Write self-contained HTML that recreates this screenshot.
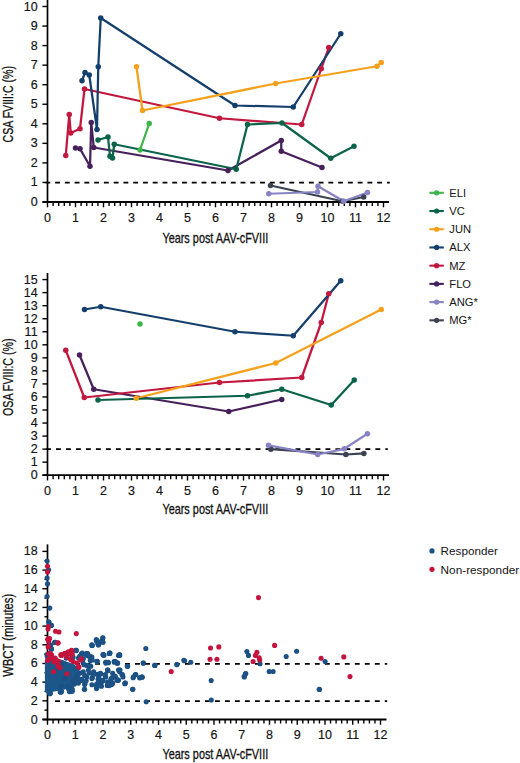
<!DOCTYPE html>
<html><head><meta charset="utf-8"><style>
html,body{margin:0;padding:0;background:#fff;}
body{width:520px;height:763px;overflow:hidden;}
svg{display:block;}
text{font-family:"Liberation Sans", sans-serif;fill:#141414;}
.tk{font-size:12.5px;stroke:#141414;stroke-width:0.18px;}
.tt{font-size:14.3px;fill:#111;stroke:#111;stroke-width:0.3px;}
.lg{font-size:11.2px;}
.lg2{font-size:11.7px;}
</style></head><body>
<svg width="520" height="763" viewBox="0 0 520 763">
<line x1="47.5" y1="0" x2="47.5" y2="203" stroke="#000" stroke-width="1.7"/>
<line x1="42.4" y1="202" x2="47.5" y2="202" stroke="#000" stroke-width="1.4"/>
<text x="37.6" y="206" text-anchor="end" class="tk">0</text>
<line x1="42.4" y1="182.45" x2="47.5" y2="182.45" stroke="#000" stroke-width="1.4"/>
<text x="37.6" y="186.45" text-anchor="end" class="tk">1</text>
<line x1="42.4" y1="162.9" x2="47.5" y2="162.9" stroke="#000" stroke-width="1.4"/>
<text x="37.6" y="166.9" text-anchor="end" class="tk">2</text>
<line x1="42.4" y1="143.35" x2="47.5" y2="143.35" stroke="#000" stroke-width="1.4"/>
<text x="37.6" y="147.35" text-anchor="end" class="tk">3</text>
<line x1="42.4" y1="123.8" x2="47.5" y2="123.8" stroke="#000" stroke-width="1.4"/>
<text x="37.6" y="127.8" text-anchor="end" class="tk">4</text>
<line x1="42.4" y1="104.25" x2="47.5" y2="104.25" stroke="#000" stroke-width="1.4"/>
<text x="37.6" y="108.25" text-anchor="end" class="tk">5</text>
<line x1="42.4" y1="84.7" x2="47.5" y2="84.7" stroke="#000" stroke-width="1.4"/>
<text x="37.6" y="88.7" text-anchor="end" class="tk">6</text>
<line x1="42.4" y1="65.15" x2="47.5" y2="65.15" stroke="#000" stroke-width="1.4"/>
<text x="37.6" y="69.15" text-anchor="end" class="tk">7</text>
<line x1="42.4" y1="45.6" x2="47.5" y2="45.6" stroke="#000" stroke-width="1.4"/>
<text x="37.6" y="49.6" text-anchor="end" class="tk">8</text>
<line x1="42.4" y1="26.05" x2="47.5" y2="26.05" stroke="#000" stroke-width="1.4"/>
<text x="37.6" y="30.05" text-anchor="end" class="tk">9</text>
<line x1="42.4" y1="6.5" x2="47.5" y2="6.5" stroke="#000" stroke-width="1.4"/>
<text x="37.6" y="10.5" text-anchor="end" class="tk">10</text>
<line x1="42.5" y1="202" x2="389" y2="202" stroke="#000" stroke-width="1.8"/>
<line x1="47.5" y1="202" x2="47.5" y2="207.3" stroke="#000" stroke-width="1.4"/>
<text x="47.5" y="221.8" text-anchor="middle" class="tk">0</text>
<line x1="53.1" y1="202" x2="53.1" y2="206" stroke="#000" stroke-width="1.4"/>
<line x1="58.7" y1="202" x2="58.7" y2="206" stroke="#000" stroke-width="1.4"/>
<line x1="64.3" y1="202" x2="64.3" y2="206" stroke="#000" stroke-width="1.4"/>
<line x1="69.9" y1="202" x2="69.9" y2="206" stroke="#000" stroke-width="1.4"/>
<line x1="75.5" y1="202" x2="75.5" y2="207.3" stroke="#000" stroke-width="1.4"/>
<text x="75.5" y="221.8" text-anchor="middle" class="tk">1</text>
<line x1="81.1" y1="202" x2="81.1" y2="206" stroke="#000" stroke-width="1.4"/>
<line x1="86.7" y1="202" x2="86.7" y2="206" stroke="#000" stroke-width="1.4"/>
<line x1="92.3" y1="202" x2="92.3" y2="206" stroke="#000" stroke-width="1.4"/>
<line x1="97.9" y1="202" x2="97.9" y2="206" stroke="#000" stroke-width="1.4"/>
<line x1="103.5" y1="202" x2="103.5" y2="207.3" stroke="#000" stroke-width="1.4"/>
<text x="103.5" y="221.8" text-anchor="middle" class="tk">2</text>
<line x1="109.1" y1="202" x2="109.1" y2="206" stroke="#000" stroke-width="1.4"/>
<line x1="114.7" y1="202" x2="114.7" y2="206" stroke="#000" stroke-width="1.4"/>
<line x1="120.3" y1="202" x2="120.3" y2="206" stroke="#000" stroke-width="1.4"/>
<line x1="125.9" y1="202" x2="125.9" y2="206" stroke="#000" stroke-width="1.4"/>
<line x1="131.5" y1="202" x2="131.5" y2="207.3" stroke="#000" stroke-width="1.4"/>
<text x="131.5" y="221.8" text-anchor="middle" class="tk">3</text>
<line x1="137.1" y1="202" x2="137.1" y2="206" stroke="#000" stroke-width="1.4"/>
<line x1="142.7" y1="202" x2="142.7" y2="206" stroke="#000" stroke-width="1.4"/>
<line x1="148.3" y1="202" x2="148.3" y2="206" stroke="#000" stroke-width="1.4"/>
<line x1="153.9" y1="202" x2="153.9" y2="206" stroke="#000" stroke-width="1.4"/>
<line x1="159.5" y1="202" x2="159.5" y2="207.3" stroke="#000" stroke-width="1.4"/>
<text x="159.5" y="221.8" text-anchor="middle" class="tk">4</text>
<line x1="165.1" y1="202" x2="165.1" y2="206" stroke="#000" stroke-width="1.4"/>
<line x1="170.7" y1="202" x2="170.7" y2="206" stroke="#000" stroke-width="1.4"/>
<line x1="176.3" y1="202" x2="176.3" y2="206" stroke="#000" stroke-width="1.4"/>
<line x1="181.9" y1="202" x2="181.9" y2="206" stroke="#000" stroke-width="1.4"/>
<line x1="187.5" y1="202" x2="187.5" y2="207.3" stroke="#000" stroke-width="1.4"/>
<text x="187.5" y="221.8" text-anchor="middle" class="tk">5</text>
<line x1="193.1" y1="202" x2="193.1" y2="206" stroke="#000" stroke-width="1.4"/>
<line x1="198.7" y1="202" x2="198.7" y2="206" stroke="#000" stroke-width="1.4"/>
<line x1="204.3" y1="202" x2="204.3" y2="206" stroke="#000" stroke-width="1.4"/>
<line x1="209.9" y1="202" x2="209.9" y2="206" stroke="#000" stroke-width="1.4"/>
<line x1="215.5" y1="202" x2="215.5" y2="207.3" stroke="#000" stroke-width="1.4"/>
<text x="215.5" y="221.8" text-anchor="middle" class="tk">6</text>
<line x1="221.1" y1="202" x2="221.1" y2="206" stroke="#000" stroke-width="1.4"/>
<line x1="226.7" y1="202" x2="226.7" y2="206" stroke="#000" stroke-width="1.4"/>
<line x1="232.3" y1="202" x2="232.3" y2="206" stroke="#000" stroke-width="1.4"/>
<line x1="237.9" y1="202" x2="237.9" y2="206" stroke="#000" stroke-width="1.4"/>
<line x1="243.5" y1="202" x2="243.5" y2="207.3" stroke="#000" stroke-width="1.4"/>
<text x="243.5" y="221.8" text-anchor="middle" class="tk">7</text>
<line x1="249.1" y1="202" x2="249.1" y2="206" stroke="#000" stroke-width="1.4"/>
<line x1="254.7" y1="202" x2="254.7" y2="206" stroke="#000" stroke-width="1.4"/>
<line x1="260.3" y1="202" x2="260.3" y2="206" stroke="#000" stroke-width="1.4"/>
<line x1="265.9" y1="202" x2="265.9" y2="206" stroke="#000" stroke-width="1.4"/>
<line x1="271.5" y1="202" x2="271.5" y2="207.3" stroke="#000" stroke-width="1.4"/>
<text x="271.5" y="221.8" text-anchor="middle" class="tk">8</text>
<line x1="277.1" y1="202" x2="277.1" y2="206" stroke="#000" stroke-width="1.4"/>
<line x1="282.7" y1="202" x2="282.7" y2="206" stroke="#000" stroke-width="1.4"/>
<line x1="288.3" y1="202" x2="288.3" y2="206" stroke="#000" stroke-width="1.4"/>
<line x1="293.9" y1="202" x2="293.9" y2="206" stroke="#000" stroke-width="1.4"/>
<line x1="299.5" y1="202" x2="299.5" y2="207.3" stroke="#000" stroke-width="1.4"/>
<text x="299.5" y="221.8" text-anchor="middle" class="tk">9</text>
<line x1="305.1" y1="202" x2="305.1" y2="206" stroke="#000" stroke-width="1.4"/>
<line x1="310.7" y1="202" x2="310.7" y2="206" stroke="#000" stroke-width="1.4"/>
<line x1="316.3" y1="202" x2="316.3" y2="206" stroke="#000" stroke-width="1.4"/>
<line x1="321.9" y1="202" x2="321.9" y2="206" stroke="#000" stroke-width="1.4"/>
<line x1="327.5" y1="202" x2="327.5" y2="207.3" stroke="#000" stroke-width="1.4"/>
<text x="327.5" y="221.8" text-anchor="middle" class="tk">10</text>
<line x1="333.1" y1="202" x2="333.1" y2="206" stroke="#000" stroke-width="1.4"/>
<line x1="338.7" y1="202" x2="338.7" y2="206" stroke="#000" stroke-width="1.4"/>
<line x1="344.3" y1="202" x2="344.3" y2="206" stroke="#000" stroke-width="1.4"/>
<line x1="349.9" y1="202" x2="349.9" y2="206" stroke="#000" stroke-width="1.4"/>
<line x1="355.5" y1="202" x2="355.5" y2="207.3" stroke="#000" stroke-width="1.4"/>
<text x="355.5" y="221.8" text-anchor="middle" class="tk">11</text>
<line x1="361.1" y1="202" x2="361.1" y2="206" stroke="#000" stroke-width="1.4"/>
<line x1="366.7" y1="202" x2="366.7" y2="206" stroke="#000" stroke-width="1.4"/>
<line x1="372.3" y1="202" x2="372.3" y2="206" stroke="#000" stroke-width="1.4"/>
<line x1="377.9" y1="202" x2="377.9" y2="206" stroke="#000" stroke-width="1.4"/>
<line x1="383.5" y1="202" x2="383.5" y2="207.3" stroke="#000" stroke-width="1.4"/>
<text x="383.5" y="221.8" text-anchor="middle" class="tk">12</text>
<line x1="45.35" y1="182.6" x2="389.8" y2="182.6" stroke="#000" stroke-width="1.7" stroke-dasharray="4.9 4.86"/>
<text transform="translate(12.6,104.25) rotate(-90)" text-anchor="middle" class="tt" textLength="76.5" lengthAdjust="spacingAndGlyphs">CSA FVIII:C (%)</text>
<text x="162.4" y="243.2" class="tt" textLength="105.79999999999998" lengthAdjust="spacingAndGlyphs">Years post AAV-cFVIII</text>
<polyline points="270.5,185.5 342.5,201.25 363.75,197" fill="none" stroke="#3b4252" stroke-width="2.25" stroke-linejoin="round" stroke-linecap="round"/>
<polyline points="268.75,193.75 317.5,192 318,186.25 343.75,201.25 367.5,192.5" fill="none" stroke="#8884c4" stroke-width="2.25" stroke-linejoin="round" stroke-linecap="round"/>
<polyline points="75.5,148 80,148.75 90,166.25 91.25,122.5 93.75,147.5 228,170.5 281.25,140.5 281.25,151.25 322,167.5" fill="none" stroke="#46205b" stroke-width="2.25" stroke-linejoin="round" stroke-linecap="round"/>
<polyline points="65.75,155.5 69.25,114.5 70.75,133 80,128.75 84.5,89 219.5,118.25 301.75,124.5 321.25,68.75 328.75,47.5" fill="none" stroke="#c2173e" stroke-width="2.25" stroke-linejoin="round" stroke-linecap="round"/>
<polyline points="82,80.75 85,72.5 89.25,75 97,129.5 98.25,66.75 100.75,18 235,105.5 293.25,107 340.75,33.75" fill="none" stroke="#143f6c" stroke-width="2.25" stroke-linejoin="round" stroke-linecap="round"/>
<polyline points="136.5,66.75 142.5,110.5 275.75,83.5 377,66.25 381.25,62.5" fill="none" stroke="#f6a01c" stroke-width="2.25" stroke-linejoin="round" stroke-linecap="round"/>
<polyline points="98,140 108,137 110,156.25 112.5,158 114.25,144.25 236.25,169.25 247.5,124.5 282,123 330.75,158.25 354,146.25" fill="none" stroke="#0b6449" stroke-width="2.25" stroke-linejoin="round" stroke-linecap="round"/>
<polyline points="140,150 149.25,123.5" fill="none" stroke="#3db54a" stroke-width="2.25" stroke-linejoin="round" stroke-linecap="round"/>
<circle cx="270.5" cy="185.5" r="2.75" fill="#3b4252"/>
<circle cx="342.5" cy="201.25" r="2.75" fill="#3b4252"/>
<circle cx="363.75" cy="197" r="2.75" fill="#3b4252"/>
<circle cx="268.75" cy="193.75" r="2.75" fill="#8884c4"/>
<circle cx="317.5" cy="192" r="2.75" fill="#8884c4"/>
<circle cx="318" cy="186.25" r="2.75" fill="#8884c4"/>
<circle cx="343.75" cy="201.25" r="2.75" fill="#8884c4"/>
<circle cx="367.5" cy="192.5" r="2.75" fill="#8884c4"/>
<circle cx="75.5" cy="148" r="2.75" fill="#46205b"/>
<circle cx="80" cy="148.75" r="2.75" fill="#46205b"/>
<circle cx="90" cy="166.25" r="2.75" fill="#46205b"/>
<circle cx="91.25" cy="122.5" r="2.75" fill="#46205b"/>
<circle cx="93.75" cy="147.5" r="2.75" fill="#46205b"/>
<circle cx="228" cy="170.5" r="2.75" fill="#46205b"/>
<circle cx="281.25" cy="140.5" r="2.75" fill="#46205b"/>
<circle cx="281.25" cy="151.25" r="2.75" fill="#46205b"/>
<circle cx="322" cy="167.5" r="2.75" fill="#46205b"/>
<circle cx="65.75" cy="155.5" r="2.75" fill="#c2173e"/>
<circle cx="69.25" cy="114.5" r="2.75" fill="#c2173e"/>
<circle cx="70.75" cy="133" r="2.75" fill="#c2173e"/>
<circle cx="80" cy="128.75" r="2.75" fill="#c2173e"/>
<circle cx="84.5" cy="89" r="2.75" fill="#c2173e"/>
<circle cx="219.5" cy="118.25" r="2.75" fill="#c2173e"/>
<circle cx="301.75" cy="124.5" r="2.75" fill="#c2173e"/>
<circle cx="321.25" cy="68.75" r="2.75" fill="#c2173e"/>
<circle cx="328.75" cy="47.5" r="2.75" fill="#c2173e"/>
<circle cx="82" cy="80.75" r="2.75" fill="#143f6c"/>
<circle cx="85" cy="72.5" r="2.75" fill="#143f6c"/>
<circle cx="89.25" cy="75" r="2.75" fill="#143f6c"/>
<circle cx="97" cy="129.5" r="2.75" fill="#143f6c"/>
<circle cx="98.25" cy="66.75" r="2.75" fill="#143f6c"/>
<circle cx="100.75" cy="18" r="2.75" fill="#143f6c"/>
<circle cx="235" cy="105.5" r="2.75" fill="#143f6c"/>
<circle cx="293.25" cy="107" r="2.75" fill="#143f6c"/>
<circle cx="340.75" cy="33.75" r="2.75" fill="#143f6c"/>
<circle cx="136.5" cy="66.75" r="2.75" fill="#f6a01c"/>
<circle cx="142.5" cy="110.5" r="2.75" fill="#f6a01c"/>
<circle cx="275.75" cy="83.5" r="2.75" fill="#f6a01c"/>
<circle cx="377" cy="66.25" r="2.75" fill="#f6a01c"/>
<circle cx="381.25" cy="62.5" r="2.75" fill="#f6a01c"/>
<circle cx="98" cy="140" r="2.75" fill="#0b6449"/>
<circle cx="108" cy="137" r="2.75" fill="#0b6449"/>
<circle cx="110" cy="156.25" r="2.75" fill="#0b6449"/>
<circle cx="112.5" cy="158" r="2.75" fill="#0b6449"/>
<circle cx="114.25" cy="144.25" r="2.75" fill="#0b6449"/>
<circle cx="236.25" cy="169.25" r="2.75" fill="#0b6449"/>
<circle cx="247.5" cy="124.5" r="2.75" fill="#0b6449"/>
<circle cx="282" cy="123" r="2.75" fill="#0b6449"/>
<circle cx="330.75" cy="158.25" r="2.75" fill="#0b6449"/>
<circle cx="354" cy="146.25" r="2.75" fill="#0b6449"/>
<circle cx="140" cy="150" r="2.75" fill="#3db54a"/>
<circle cx="149.25" cy="123.5" r="2.75" fill="#3db54a"/>
<line x1="429.4" y1="192.8" x2="443.8" y2="192.8" stroke="#3db54a" stroke-width="2.1"/>
<circle cx="436.6" cy="192.8" r="2.6" fill="#3db54a"/>
<text x="449.3" y="196.8" class="lg">ELI</text>
<line x1="429.4" y1="211.02" x2="443.8" y2="211.02" stroke="#0b6449" stroke-width="2.1"/>
<circle cx="436.6" cy="211.02" r="2.6" fill="#0b6449"/>
<text x="449.3" y="215.02" class="lg">VC</text>
<line x1="429.4" y1="229.24" x2="443.8" y2="229.24" stroke="#f6a01c" stroke-width="2.1"/>
<circle cx="436.6" cy="229.24" r="2.6" fill="#f6a01c"/>
<text x="449.3" y="233.24" class="lg">JUN</text>
<line x1="429.4" y1="247.46" x2="443.8" y2="247.46" stroke="#143f6c" stroke-width="2.1"/>
<circle cx="436.6" cy="247.46" r="2.6" fill="#143f6c"/>
<text x="449.3" y="251.46" class="lg">ALX</text>
<line x1="429.4" y1="265.68" x2="443.8" y2="265.68" stroke="#c2173e" stroke-width="2.1"/>
<circle cx="436.6" cy="265.68" r="2.6" fill="#c2173e"/>
<text x="449.3" y="269.68" class="lg">MZ</text>
<line x1="429.4" y1="283.9" x2="443.8" y2="283.9" stroke="#46205b" stroke-width="2.1"/>
<circle cx="436.6" cy="283.9" r="2.6" fill="#46205b"/>
<text x="449.3" y="287.9" class="lg">FLO</text>
<line x1="429.4" y1="302.12" x2="443.8" y2="302.12" stroke="#8884c4" stroke-width="2.1"/>
<circle cx="436.6" cy="302.12" r="2.6" fill="#8884c4"/>
<text x="449.3" y="306.12" class="lg">ANG*</text>
<line x1="429.4" y1="320.34" x2="443.8" y2="320.34" stroke="#3b4252" stroke-width="2.1"/>
<circle cx="436.6" cy="320.34" r="2.6" fill="#3b4252"/>
<text x="449.3" y="324.34" class="lg">MG*</text>
<line x1="47.5" y1="273" x2="47.5" y2="476.2" stroke="#000" stroke-width="1.7"/>
<line x1="42.4" y1="475.2" x2="47.5" y2="475.2" stroke="#000" stroke-width="1.4"/>
<text x="37.6" y="479.2" text-anchor="end" class="tk">0</text>
<line x1="42.4" y1="462.16" x2="47.5" y2="462.16" stroke="#000" stroke-width="1.4"/>
<text x="37.6" y="466.16" text-anchor="end" class="tk">1</text>
<line x1="42.4" y1="449.12" x2="47.5" y2="449.12" stroke="#000" stroke-width="1.4"/>
<text x="37.6" y="453.12" text-anchor="end" class="tk">2</text>
<line x1="42.4" y1="436.08" x2="47.5" y2="436.08" stroke="#000" stroke-width="1.4"/>
<text x="37.6" y="440.08" text-anchor="end" class="tk">3</text>
<line x1="42.4" y1="423.04" x2="47.5" y2="423.04" stroke="#000" stroke-width="1.4"/>
<text x="37.6" y="427.04" text-anchor="end" class="tk">4</text>
<line x1="42.4" y1="410" x2="47.5" y2="410" stroke="#000" stroke-width="1.4"/>
<text x="37.6" y="414" text-anchor="end" class="tk">5</text>
<line x1="42.4" y1="396.96" x2="47.5" y2="396.96" stroke="#000" stroke-width="1.4"/>
<text x="37.6" y="400.96" text-anchor="end" class="tk">6</text>
<line x1="42.4" y1="383.92" x2="47.5" y2="383.92" stroke="#000" stroke-width="1.4"/>
<text x="37.6" y="387.92" text-anchor="end" class="tk">7</text>
<line x1="42.4" y1="370.88" x2="47.5" y2="370.88" stroke="#000" stroke-width="1.4"/>
<text x="37.6" y="374.88" text-anchor="end" class="tk">8</text>
<line x1="42.4" y1="357.84" x2="47.5" y2="357.84" stroke="#000" stroke-width="1.4"/>
<text x="37.6" y="361.84" text-anchor="end" class="tk">9</text>
<line x1="42.4" y1="344.8" x2="47.5" y2="344.8" stroke="#000" stroke-width="1.4"/>
<text x="37.6" y="348.8" text-anchor="end" class="tk">10</text>
<line x1="42.4" y1="331.76" x2="47.5" y2="331.76" stroke="#000" stroke-width="1.4"/>
<text x="37.6" y="335.76" text-anchor="end" class="tk">11</text>
<line x1="42.4" y1="318.72" x2="47.5" y2="318.72" stroke="#000" stroke-width="1.4"/>
<text x="37.6" y="322.72" text-anchor="end" class="tk">12</text>
<line x1="42.4" y1="305.68" x2="47.5" y2="305.68" stroke="#000" stroke-width="1.4"/>
<text x="37.6" y="309.68" text-anchor="end" class="tk">13</text>
<line x1="42.4" y1="292.64" x2="47.5" y2="292.64" stroke="#000" stroke-width="1.4"/>
<text x="37.6" y="296.64" text-anchor="end" class="tk">14</text>
<line x1="42.4" y1="279.6" x2="47.5" y2="279.6" stroke="#000" stroke-width="1.4"/>
<text x="37.6" y="283.6" text-anchor="end" class="tk">15</text>
<line x1="42.5" y1="475.2" x2="389" y2="475.2" stroke="#000" stroke-width="1.8"/>
<line x1="47.5" y1="475.2" x2="47.5" y2="480.5" stroke="#000" stroke-width="1.4"/>
<text x="47.5" y="494.6" text-anchor="middle" class="tk">0</text>
<line x1="53.1" y1="475.2" x2="53.1" y2="479.2" stroke="#000" stroke-width="1.4"/>
<line x1="58.7" y1="475.2" x2="58.7" y2="479.2" stroke="#000" stroke-width="1.4"/>
<line x1="64.3" y1="475.2" x2="64.3" y2="479.2" stroke="#000" stroke-width="1.4"/>
<line x1="69.9" y1="475.2" x2="69.9" y2="479.2" stroke="#000" stroke-width="1.4"/>
<line x1="75.5" y1="475.2" x2="75.5" y2="480.5" stroke="#000" stroke-width="1.4"/>
<text x="75.5" y="494.6" text-anchor="middle" class="tk">1</text>
<line x1="81.1" y1="475.2" x2="81.1" y2="479.2" stroke="#000" stroke-width="1.4"/>
<line x1="86.7" y1="475.2" x2="86.7" y2="479.2" stroke="#000" stroke-width="1.4"/>
<line x1="92.3" y1="475.2" x2="92.3" y2="479.2" stroke="#000" stroke-width="1.4"/>
<line x1="97.9" y1="475.2" x2="97.9" y2="479.2" stroke="#000" stroke-width="1.4"/>
<line x1="103.5" y1="475.2" x2="103.5" y2="480.5" stroke="#000" stroke-width="1.4"/>
<text x="103.5" y="494.6" text-anchor="middle" class="tk">2</text>
<line x1="109.1" y1="475.2" x2="109.1" y2="479.2" stroke="#000" stroke-width="1.4"/>
<line x1="114.7" y1="475.2" x2="114.7" y2="479.2" stroke="#000" stroke-width="1.4"/>
<line x1="120.3" y1="475.2" x2="120.3" y2="479.2" stroke="#000" stroke-width="1.4"/>
<line x1="125.9" y1="475.2" x2="125.9" y2="479.2" stroke="#000" stroke-width="1.4"/>
<line x1="131.5" y1="475.2" x2="131.5" y2="480.5" stroke="#000" stroke-width="1.4"/>
<text x="131.5" y="494.6" text-anchor="middle" class="tk">3</text>
<line x1="137.1" y1="475.2" x2="137.1" y2="479.2" stroke="#000" stroke-width="1.4"/>
<line x1="142.7" y1="475.2" x2="142.7" y2="479.2" stroke="#000" stroke-width="1.4"/>
<line x1="148.3" y1="475.2" x2="148.3" y2="479.2" stroke="#000" stroke-width="1.4"/>
<line x1="153.9" y1="475.2" x2="153.9" y2="479.2" stroke="#000" stroke-width="1.4"/>
<line x1="159.5" y1="475.2" x2="159.5" y2="480.5" stroke="#000" stroke-width="1.4"/>
<text x="159.5" y="494.6" text-anchor="middle" class="tk">4</text>
<line x1="165.1" y1="475.2" x2="165.1" y2="479.2" stroke="#000" stroke-width="1.4"/>
<line x1="170.7" y1="475.2" x2="170.7" y2="479.2" stroke="#000" stroke-width="1.4"/>
<line x1="176.3" y1="475.2" x2="176.3" y2="479.2" stroke="#000" stroke-width="1.4"/>
<line x1="181.9" y1="475.2" x2="181.9" y2="479.2" stroke="#000" stroke-width="1.4"/>
<line x1="187.5" y1="475.2" x2="187.5" y2="480.5" stroke="#000" stroke-width="1.4"/>
<text x="187.5" y="494.6" text-anchor="middle" class="tk">5</text>
<line x1="193.1" y1="475.2" x2="193.1" y2="479.2" stroke="#000" stroke-width="1.4"/>
<line x1="198.7" y1="475.2" x2="198.7" y2="479.2" stroke="#000" stroke-width="1.4"/>
<line x1="204.3" y1="475.2" x2="204.3" y2="479.2" stroke="#000" stroke-width="1.4"/>
<line x1="209.9" y1="475.2" x2="209.9" y2="479.2" stroke="#000" stroke-width="1.4"/>
<line x1="215.5" y1="475.2" x2="215.5" y2="480.5" stroke="#000" stroke-width="1.4"/>
<text x="215.5" y="494.6" text-anchor="middle" class="tk">6</text>
<line x1="221.1" y1="475.2" x2="221.1" y2="479.2" stroke="#000" stroke-width="1.4"/>
<line x1="226.7" y1="475.2" x2="226.7" y2="479.2" stroke="#000" stroke-width="1.4"/>
<line x1="232.3" y1="475.2" x2="232.3" y2="479.2" stroke="#000" stroke-width="1.4"/>
<line x1="237.9" y1="475.2" x2="237.9" y2="479.2" stroke="#000" stroke-width="1.4"/>
<line x1="243.5" y1="475.2" x2="243.5" y2="480.5" stroke="#000" stroke-width="1.4"/>
<text x="243.5" y="494.6" text-anchor="middle" class="tk">7</text>
<line x1="249.1" y1="475.2" x2="249.1" y2="479.2" stroke="#000" stroke-width="1.4"/>
<line x1="254.7" y1="475.2" x2="254.7" y2="479.2" stroke="#000" stroke-width="1.4"/>
<line x1="260.3" y1="475.2" x2="260.3" y2="479.2" stroke="#000" stroke-width="1.4"/>
<line x1="265.9" y1="475.2" x2="265.9" y2="479.2" stroke="#000" stroke-width="1.4"/>
<line x1="271.5" y1="475.2" x2="271.5" y2="480.5" stroke="#000" stroke-width="1.4"/>
<text x="271.5" y="494.6" text-anchor="middle" class="tk">8</text>
<line x1="277.1" y1="475.2" x2="277.1" y2="479.2" stroke="#000" stroke-width="1.4"/>
<line x1="282.7" y1="475.2" x2="282.7" y2="479.2" stroke="#000" stroke-width="1.4"/>
<line x1="288.3" y1="475.2" x2="288.3" y2="479.2" stroke="#000" stroke-width="1.4"/>
<line x1="293.9" y1="475.2" x2="293.9" y2="479.2" stroke="#000" stroke-width="1.4"/>
<line x1="299.5" y1="475.2" x2="299.5" y2="480.5" stroke="#000" stroke-width="1.4"/>
<text x="299.5" y="494.6" text-anchor="middle" class="tk">9</text>
<line x1="305.1" y1="475.2" x2="305.1" y2="479.2" stroke="#000" stroke-width="1.4"/>
<line x1="310.7" y1="475.2" x2="310.7" y2="479.2" stroke="#000" stroke-width="1.4"/>
<line x1="316.3" y1="475.2" x2="316.3" y2="479.2" stroke="#000" stroke-width="1.4"/>
<line x1="321.9" y1="475.2" x2="321.9" y2="479.2" stroke="#000" stroke-width="1.4"/>
<line x1="327.5" y1="475.2" x2="327.5" y2="480.5" stroke="#000" stroke-width="1.4"/>
<text x="327.5" y="494.6" text-anchor="middle" class="tk">10</text>
<line x1="333.1" y1="475.2" x2="333.1" y2="479.2" stroke="#000" stroke-width="1.4"/>
<line x1="338.7" y1="475.2" x2="338.7" y2="479.2" stroke="#000" stroke-width="1.4"/>
<line x1="344.3" y1="475.2" x2="344.3" y2="479.2" stroke="#000" stroke-width="1.4"/>
<line x1="349.9" y1="475.2" x2="349.9" y2="479.2" stroke="#000" stroke-width="1.4"/>
<line x1="355.5" y1="475.2" x2="355.5" y2="480.5" stroke="#000" stroke-width="1.4"/>
<text x="355.5" y="494.6" text-anchor="middle" class="tk">11</text>
<line x1="361.1" y1="475.2" x2="361.1" y2="479.2" stroke="#000" stroke-width="1.4"/>
<line x1="366.7" y1="475.2" x2="366.7" y2="479.2" stroke="#000" stroke-width="1.4"/>
<line x1="372.3" y1="475.2" x2="372.3" y2="479.2" stroke="#000" stroke-width="1.4"/>
<line x1="377.9" y1="475.2" x2="377.9" y2="479.2" stroke="#000" stroke-width="1.4"/>
<line x1="383.5" y1="475.2" x2="383.5" y2="480.5" stroke="#000" stroke-width="1.4"/>
<text x="383.5" y="494.6" text-anchor="middle" class="tk">12</text>
<line x1="46.02" y1="449.2" x2="387.8" y2="449.2" stroke="#000" stroke-width="1.7" stroke-dasharray="4.9 5.08"/>
<text transform="translate(12.6,377.2) rotate(-90)" text-anchor="middle" class="tt" textLength="77.7" lengthAdjust="spacingAndGlyphs">OSA FVIII:C (%)</text>
<text x="162.4" y="514.3" class="tt" textLength="105.79999999999998" lengthAdjust="spacingAndGlyphs">Years post AAV-cFVIII</text>
<polyline points="270.8,449.2 345.9,454.5 363.9,453.4" fill="none" stroke="#3b4252" stroke-width="2.25" stroke-linejoin="round" stroke-linecap="round"/>
<polyline points="268.5,445.3 317.7,454.5 344.3,448.8 367.4,433.8" fill="none" stroke="#8884c4" stroke-width="2.25" stroke-linejoin="round" stroke-linecap="round"/>
<polyline points="79.5,355 93.75,389.25 228.75,411.5 281.75,399.5" fill="none" stroke="#46205b" stroke-width="2.25" stroke-linejoin="round" stroke-linecap="round"/>
<polyline points="65.75,350.25 84.25,397.5 219.5,382.5 301.75,377.5 321.25,322.5 328.75,293.75" fill="none" stroke="#c2173e" stroke-width="2.25" stroke-linejoin="round" stroke-linecap="round"/>
<polyline points="84.5,309.5 100.75,306.75 235,331.75 293.25,335.75 340.75,280.75" fill="none" stroke="#143f6c" stroke-width="2.25" stroke-linejoin="round" stroke-linecap="round"/>
<polyline points="136.25,398.25 275.75,363 381.25,309.5" fill="none" stroke="#f6a01c" stroke-width="2.25" stroke-linejoin="round" stroke-linecap="round"/>
<polyline points="98,400 247.5,395.75 281.75,389.25 331.25,405 354.25,380" fill="none" stroke="#0b6449" stroke-width="2.25" stroke-linejoin="round" stroke-linecap="round"/>
<circle cx="270.8" cy="449.2" r="2.75" fill="#3b4252"/>
<circle cx="345.9" cy="454.5" r="2.75" fill="#3b4252"/>
<circle cx="363.9" cy="453.4" r="2.75" fill="#3b4252"/>
<circle cx="268.5" cy="445.3" r="2.75" fill="#8884c4"/>
<circle cx="317.7" cy="454.5" r="2.75" fill="#8884c4"/>
<circle cx="344.3" cy="448.8" r="2.75" fill="#8884c4"/>
<circle cx="367.4" cy="433.8" r="2.75" fill="#8884c4"/>
<circle cx="79.5" cy="355" r="2.75" fill="#46205b"/>
<circle cx="93.75" cy="389.25" r="2.75" fill="#46205b"/>
<circle cx="228.75" cy="411.5" r="2.75" fill="#46205b"/>
<circle cx="281.75" cy="399.5" r="2.75" fill="#46205b"/>
<circle cx="65.75" cy="350.25" r="2.75" fill="#c2173e"/>
<circle cx="84.25" cy="397.5" r="2.75" fill="#c2173e"/>
<circle cx="219.5" cy="382.5" r="2.75" fill="#c2173e"/>
<circle cx="301.75" cy="377.5" r="2.75" fill="#c2173e"/>
<circle cx="321.25" cy="322.5" r="2.75" fill="#c2173e"/>
<circle cx="328.75" cy="293.75" r="2.75" fill="#c2173e"/>
<circle cx="84.5" cy="309.5" r="2.75" fill="#143f6c"/>
<circle cx="100.75" cy="306.75" r="2.75" fill="#143f6c"/>
<circle cx="235" cy="331.75" r="2.75" fill="#143f6c"/>
<circle cx="293.25" cy="335.75" r="2.75" fill="#143f6c"/>
<circle cx="340.75" cy="280.75" r="2.75" fill="#143f6c"/>
<circle cx="136.25" cy="398.25" r="2.75" fill="#f6a01c"/>
<circle cx="275.75" cy="363" r="2.75" fill="#f6a01c"/>
<circle cx="381.25" cy="309.5" r="2.75" fill="#f6a01c"/>
<circle cx="98" cy="400" r="2.75" fill="#0b6449"/>
<circle cx="247.5" cy="395.75" r="2.75" fill="#0b6449"/>
<circle cx="281.75" cy="389.25" r="2.75" fill="#0b6449"/>
<circle cx="331.25" cy="405" r="2.75" fill="#0b6449"/>
<circle cx="354.25" cy="380" r="2.75" fill="#0b6449"/>
<circle cx="140" cy="324" r="2.75" fill="#3db54a"/>
<line x1="42.5" y1="719.5" x2="386.5" y2="719.5" stroke="#000" stroke-width="1.8"/>
<line x1="47.5" y1="719.5" x2="47.5" y2="724.8" stroke="#000" stroke-width="1.4"/>
<text x="47.5" y="738.8" text-anchor="middle" class="tk">0</text>
<line x1="53.05" y1="719.5" x2="53.05" y2="723.5" stroke="#000" stroke-width="1.4"/>
<line x1="58.6" y1="719.5" x2="58.6" y2="723.5" stroke="#000" stroke-width="1.4"/>
<line x1="64.15" y1="719.5" x2="64.15" y2="723.5" stroke="#000" stroke-width="1.4"/>
<line x1="69.7" y1="719.5" x2="69.7" y2="723.5" stroke="#000" stroke-width="1.4"/>
<line x1="75.25" y1="719.5" x2="75.25" y2="724.8" stroke="#000" stroke-width="1.4"/>
<text x="75.25" y="738.8" text-anchor="middle" class="tk">1</text>
<line x1="80.8" y1="719.5" x2="80.8" y2="723.5" stroke="#000" stroke-width="1.4"/>
<line x1="86.35" y1="719.5" x2="86.35" y2="723.5" stroke="#000" stroke-width="1.4"/>
<line x1="91.9" y1="719.5" x2="91.9" y2="723.5" stroke="#000" stroke-width="1.4"/>
<line x1="97.45" y1="719.5" x2="97.45" y2="723.5" stroke="#000" stroke-width="1.4"/>
<line x1="103" y1="719.5" x2="103" y2="724.8" stroke="#000" stroke-width="1.4"/>
<text x="103" y="738.8" text-anchor="middle" class="tk">2</text>
<line x1="108.55" y1="719.5" x2="108.55" y2="723.5" stroke="#000" stroke-width="1.4"/>
<line x1="114.1" y1="719.5" x2="114.1" y2="723.5" stroke="#000" stroke-width="1.4"/>
<line x1="119.65" y1="719.5" x2="119.65" y2="723.5" stroke="#000" stroke-width="1.4"/>
<line x1="125.2" y1="719.5" x2="125.2" y2="723.5" stroke="#000" stroke-width="1.4"/>
<line x1="130.75" y1="719.5" x2="130.75" y2="724.8" stroke="#000" stroke-width="1.4"/>
<text x="130.75" y="738.8" text-anchor="middle" class="tk">3</text>
<line x1="136.3" y1="719.5" x2="136.3" y2="723.5" stroke="#000" stroke-width="1.4"/>
<line x1="141.85" y1="719.5" x2="141.85" y2="723.5" stroke="#000" stroke-width="1.4"/>
<line x1="147.4" y1="719.5" x2="147.4" y2="723.5" stroke="#000" stroke-width="1.4"/>
<line x1="152.95" y1="719.5" x2="152.95" y2="723.5" stroke="#000" stroke-width="1.4"/>
<line x1="158.5" y1="719.5" x2="158.5" y2="724.8" stroke="#000" stroke-width="1.4"/>
<text x="158.5" y="738.8" text-anchor="middle" class="tk">4</text>
<line x1="164.05" y1="719.5" x2="164.05" y2="723.5" stroke="#000" stroke-width="1.4"/>
<line x1="169.6" y1="719.5" x2="169.6" y2="723.5" stroke="#000" stroke-width="1.4"/>
<line x1="175.15" y1="719.5" x2="175.15" y2="723.5" stroke="#000" stroke-width="1.4"/>
<line x1="180.7" y1="719.5" x2="180.7" y2="723.5" stroke="#000" stroke-width="1.4"/>
<line x1="186.25" y1="719.5" x2="186.25" y2="724.8" stroke="#000" stroke-width="1.4"/>
<text x="186.25" y="738.8" text-anchor="middle" class="tk">5</text>
<line x1="191.8" y1="719.5" x2="191.8" y2="723.5" stroke="#000" stroke-width="1.4"/>
<line x1="197.35" y1="719.5" x2="197.35" y2="723.5" stroke="#000" stroke-width="1.4"/>
<line x1="202.9" y1="719.5" x2="202.9" y2="723.5" stroke="#000" stroke-width="1.4"/>
<line x1="208.45" y1="719.5" x2="208.45" y2="723.5" stroke="#000" stroke-width="1.4"/>
<line x1="214" y1="719.5" x2="214" y2="724.8" stroke="#000" stroke-width="1.4"/>
<text x="214" y="738.8" text-anchor="middle" class="tk">6</text>
<line x1="219.55" y1="719.5" x2="219.55" y2="723.5" stroke="#000" stroke-width="1.4"/>
<line x1="225.1" y1="719.5" x2="225.1" y2="723.5" stroke="#000" stroke-width="1.4"/>
<line x1="230.65" y1="719.5" x2="230.65" y2="723.5" stroke="#000" stroke-width="1.4"/>
<line x1="236.2" y1="719.5" x2="236.2" y2="723.5" stroke="#000" stroke-width="1.4"/>
<line x1="241.75" y1="719.5" x2="241.75" y2="724.8" stroke="#000" stroke-width="1.4"/>
<text x="241.75" y="738.8" text-anchor="middle" class="tk">7</text>
<line x1="247.3" y1="719.5" x2="247.3" y2="723.5" stroke="#000" stroke-width="1.4"/>
<line x1="252.85" y1="719.5" x2="252.85" y2="723.5" stroke="#000" stroke-width="1.4"/>
<line x1="258.4" y1="719.5" x2="258.4" y2="723.5" stroke="#000" stroke-width="1.4"/>
<line x1="263.95" y1="719.5" x2="263.95" y2="723.5" stroke="#000" stroke-width="1.4"/>
<line x1="269.5" y1="719.5" x2="269.5" y2="724.8" stroke="#000" stroke-width="1.4"/>
<text x="269.5" y="738.8" text-anchor="middle" class="tk">8</text>
<line x1="275.05" y1="719.5" x2="275.05" y2="723.5" stroke="#000" stroke-width="1.4"/>
<line x1="280.6" y1="719.5" x2="280.6" y2="723.5" stroke="#000" stroke-width="1.4"/>
<line x1="286.15" y1="719.5" x2="286.15" y2="723.5" stroke="#000" stroke-width="1.4"/>
<line x1="291.7" y1="719.5" x2="291.7" y2="723.5" stroke="#000" stroke-width="1.4"/>
<line x1="297.25" y1="719.5" x2="297.25" y2="724.8" stroke="#000" stroke-width="1.4"/>
<text x="297.25" y="738.8" text-anchor="middle" class="tk">9</text>
<line x1="302.8" y1="719.5" x2="302.8" y2="723.5" stroke="#000" stroke-width="1.4"/>
<line x1="308.35" y1="719.5" x2="308.35" y2="723.5" stroke="#000" stroke-width="1.4"/>
<line x1="313.9" y1="719.5" x2="313.9" y2="723.5" stroke="#000" stroke-width="1.4"/>
<line x1="319.45" y1="719.5" x2="319.45" y2="723.5" stroke="#000" stroke-width="1.4"/>
<line x1="325" y1="719.5" x2="325" y2="724.8" stroke="#000" stroke-width="1.4"/>
<text x="325" y="738.8" text-anchor="middle" class="tk">10</text>
<line x1="330.55" y1="719.5" x2="330.55" y2="723.5" stroke="#000" stroke-width="1.4"/>
<line x1="336.1" y1="719.5" x2="336.1" y2="723.5" stroke="#000" stroke-width="1.4"/>
<line x1="341.65" y1="719.5" x2="341.65" y2="723.5" stroke="#000" stroke-width="1.4"/>
<line x1="347.2" y1="719.5" x2="347.2" y2="723.5" stroke="#000" stroke-width="1.4"/>
<line x1="352.75" y1="719.5" x2="352.75" y2="724.8" stroke="#000" stroke-width="1.4"/>
<text x="352.75" y="738.8" text-anchor="middle" class="tk">11</text>
<line x1="358.3" y1="719.5" x2="358.3" y2="723.5" stroke="#000" stroke-width="1.4"/>
<line x1="363.85" y1="719.5" x2="363.85" y2="723.5" stroke="#000" stroke-width="1.4"/>
<line x1="369.4" y1="719.5" x2="369.4" y2="723.5" stroke="#000" stroke-width="1.4"/>
<line x1="374.95" y1="719.5" x2="374.95" y2="723.5" stroke="#000" stroke-width="1.4"/>
<line x1="380.5" y1="719.5" x2="380.5" y2="724.8" stroke="#000" stroke-width="1.4"/>
<text x="380.5" y="738.8" text-anchor="middle" class="tk">12</text>
<line x1="47.5" y1="544.4" x2="47.5" y2="720.5" stroke="#000" stroke-width="1.7"/>
<line x1="42.4" y1="719.5" x2="47.5" y2="719.5" stroke="#000" stroke-width="1.4"/>
<text x="37.6" y="723.5" text-anchor="end" class="tk">0</text>
<line x1="42.4" y1="700.82" x2="47.5" y2="700.82" stroke="#000" stroke-width="1.4"/>
<text x="37.6" y="704.82" text-anchor="end" class="tk">2</text>
<line x1="42.4" y1="682.14" x2="47.5" y2="682.14" stroke="#000" stroke-width="1.4"/>
<text x="37.6" y="686.14" text-anchor="end" class="tk">4</text>
<line x1="42.4" y1="663.46" x2="47.5" y2="663.46" stroke="#000" stroke-width="1.4"/>
<text x="37.6" y="667.46" text-anchor="end" class="tk">6</text>
<line x1="42.4" y1="644.78" x2="47.5" y2="644.78" stroke="#000" stroke-width="1.4"/>
<text x="37.6" y="648.78" text-anchor="end" class="tk">8</text>
<line x1="42.4" y1="626.1" x2="47.5" y2="626.1" stroke="#000" stroke-width="1.4"/>
<text x="37.6" y="630.1" text-anchor="end" class="tk">10</text>
<line x1="42.4" y1="607.42" x2="47.5" y2="607.42" stroke="#000" stroke-width="1.4"/>
<text x="37.6" y="611.42" text-anchor="end" class="tk">12</text>
<line x1="42.4" y1="588.74" x2="47.5" y2="588.74" stroke="#000" stroke-width="1.4"/>
<text x="37.6" y="592.74" text-anchor="end" class="tk">14</text>
<line x1="42.4" y1="570.06" x2="47.5" y2="570.06" stroke="#000" stroke-width="1.4"/>
<text x="37.6" y="574.06" text-anchor="end" class="tk">16</text>
<line x1="42.4" y1="551.38" x2="47.5" y2="551.38" stroke="#000" stroke-width="1.4"/>
<text x="37.6" y="555.38" text-anchor="end" class="tk">18</text>
<line x1="44.5" y1="710.16" x2="47.5" y2="710.16" stroke="#000" stroke-width="1.4"/>
<line x1="44.5" y1="691.48" x2="47.5" y2="691.48" stroke="#000" stroke-width="1.4"/>
<line x1="44.5" y1="672.8" x2="47.5" y2="672.8" stroke="#000" stroke-width="1.4"/>
<line x1="44.5" y1="654.12" x2="47.5" y2="654.12" stroke="#000" stroke-width="1.4"/>
<line x1="44.5" y1="635.44" x2="47.5" y2="635.44" stroke="#000" stroke-width="1.4"/>
<line x1="44.5" y1="616.76" x2="47.5" y2="616.76" stroke="#000" stroke-width="1.4"/>
<line x1="44.5" y1="598.08" x2="47.5" y2="598.08" stroke="#000" stroke-width="1.4"/>
<line x1="44.5" y1="579.4" x2="47.5" y2="579.4" stroke="#000" stroke-width="1.4"/>
<line x1="44.5" y1="560.72" x2="47.5" y2="560.72" stroke="#000" stroke-width="1.4"/>
<line x1="55.1" y1="663.8" x2="387.2" y2="663.8" stroke="#000" stroke-width="1.7" stroke-dasharray="4.9 5.09"/>
<line x1="55.1" y1="701.1" x2="387.2" y2="701.1" stroke="#000" stroke-width="1.7" stroke-dasharray="4.9 5.09"/>
<text transform="translate(12.6,635.35) rotate(-90)" text-anchor="middle" class="tt" textLength="83" lengthAdjust="spacingAndGlyphs">WBCT (minutes)</text>
<text x="162.4" y="758.6" class="tt" textLength="105.79999999999998" lengthAdjust="spacingAndGlyphs">Years post AAV-cFVIII</text>
<polygon points="46.9,660 60,661.5 73.4,666.2 76,669.2 78.5,675.4 77,681.5 74.9,684.6 69.8,686.2 63.1,687.7 55.4,689.2 46.9,690.8" fill="#1b5789" stroke="#1b5789" stroke-width="4" stroke-linejoin="round"/>
<circle cx="81.5" cy="654.4" r="2.55" fill="#1b5184"/>
<circle cx="86.7" cy="655.3" r="2.55" fill="#1b5184"/>
<circle cx="91.9" cy="657" r="2.55" fill="#1b5184"/>
<circle cx="83.3" cy="658.7" r="2.55" fill="#1b5184"/>
<circle cx="90.2" cy="660.5" r="2.55" fill="#1b5184"/>
<circle cx="97.1" cy="661.3" r="2.55" fill="#1b5184"/>
<circle cx="84.1" cy="664.8" r="2.55" fill="#1b5184"/>
<circle cx="90.2" cy="665.7" r="2.55" fill="#1b5184"/>
<circle cx="78.1" cy="668.3" r="2.55" fill="#1b5184"/>
<circle cx="83.3" cy="671.7" r="2.55" fill="#1b5184"/>
<circle cx="88.4" cy="670" r="2.55" fill="#1b5184"/>
<circle cx="93.6" cy="671.7" r="2.55" fill="#1b5184"/>
<circle cx="97.1" cy="674.3" r="2.55" fill="#1b5184"/>
<circle cx="86.7" cy="676.9" r="2.55" fill="#1b5184"/>
<circle cx="91.9" cy="678.6" r="2.55" fill="#1b5184"/>
<circle cx="98.8" cy="676.9" r="2.55" fill="#1b5184"/>
<circle cx="102.3" cy="680.4" r="2.55" fill="#1b5184"/>
<circle cx="81.5" cy="680.4" r="2.55" fill="#1b5184"/>
<circle cx="76.3" cy="676.9" r="2.55" fill="#1b5184"/>
<circle cx="72.9" cy="682.1" r="2.55" fill="#1b5184"/>
<circle cx="85" cy="683.8" r="2.55" fill="#1b5184"/>
<circle cx="91.9" cy="684.7" r="2.55" fill="#1b5184"/>
<circle cx="97.1" cy="686.4" r="2.55" fill="#1b5184"/>
<circle cx="71.1" cy="687.3" r="2.55" fill="#1b5184"/>
<circle cx="61.6" cy="691.6" r="2.55" fill="#1b5184"/>
<circle cx="50.4" cy="693.3" r="2.55" fill="#1b5184"/>
<circle cx="69.4" cy="691.6" r="2.55" fill="#1b5184"/>
<circle cx="107.5" cy="682.1" r="2.55" fill="#1b5184"/>
<circle cx="112.7" cy="683" r="2.55" fill="#1b5184"/>
<circle cx="117.9" cy="680.4" r="2.55" fill="#1b5184"/>
<circle cx="123" cy="676.9" r="2.55" fill="#1b5184"/>
<circle cx="124.8" cy="683.8" r="2.55" fill="#1b5184"/>
<circle cx="109.2" cy="685.6" r="2.55" fill="#1b5184"/>
<circle cx="105.7" cy="676.9" r="2.55" fill="#1b5184"/>
<circle cx="100.6" cy="673.4" r="2.55" fill="#1b5184"/>
<circle cx="107.5" cy="670" r="2.55" fill="#1b5184"/>
<circle cx="112.7" cy="673.4" r="2.55" fill="#1b5184"/>
<circle cx="119.6" cy="671.7" r="2.55" fill="#1b5184"/>
<circle cx="114.4" cy="662.2" r="2.55" fill="#1b5184"/>
<circle cx="105.7" cy="662.2" r="2.55" fill="#1b5184"/>
<circle cx="104" cy="655.3" r="2.55" fill="#1b5184"/>
<circle cx="109.2" cy="653.5" r="2.55" fill="#1b5184"/>
<circle cx="119.6" cy="655.3" r="2.55" fill="#1b5184"/>
<circle cx="47.1" cy="561.1" r="2.55" fill="#1b5184"/>
<circle cx="48.6" cy="569.8" r="2.55" fill="#1b5184"/>
<circle cx="47.1" cy="578" r="2.55" fill="#1b5184"/>
<circle cx="47.5" cy="583.9" r="2.55" fill="#1b5184"/>
<circle cx="47.1" cy="596.5" r="2.55" fill="#1b5184"/>
<circle cx="49.8" cy="608.1" r="2.55" fill="#1b5184"/>
<circle cx="48.9" cy="622.2" r="2.55" fill="#1b5184"/>
<circle cx="51.5" cy="625.4" r="2.55" fill="#1b5184"/>
<circle cx="48.7" cy="621.7" r="2.55" fill="#1b5184"/>
<circle cx="51" cy="625.2" r="2.55" fill="#1b5184"/>
<circle cx="96.3" cy="639.6" r="2.55" fill="#1b5184"/>
<circle cx="102.9" cy="637.9" r="2.55" fill="#1b5184"/>
<circle cx="55.4" cy="642.3" r="2.55" fill="#1b5184"/>
<circle cx="92.3" cy="645.4" r="2.55" fill="#1b5184"/>
<circle cx="97.7" cy="643.1" r="2.55" fill="#1b5184"/>
<circle cx="100.8" cy="641.5" r="2.55" fill="#1b5184"/>
<circle cx="103" cy="642.3" r="2.55" fill="#1b5184"/>
<circle cx="96.5" cy="640.4" r="2.55" fill="#1b5184"/>
<circle cx="102.7" cy="638.1" r="2.55" fill="#1b5184"/>
<circle cx="102.7" cy="641.9" r="2.55" fill="#1b5184"/>
<circle cx="98.5" cy="645" r="2.55" fill="#1b5184"/>
<circle cx="91.9" cy="645.4" r="2.55" fill="#1b5184"/>
<circle cx="101.9" cy="641.5" r="2.55" fill="#1b5184"/>
<circle cx="98.1" cy="644.6" r="2.55" fill="#1b5184"/>
<circle cx="96.5" cy="640.8" r="2.55" fill="#1b5184"/>
<circle cx="98.8" cy="644.2" r="2.55" fill="#1b5184"/>
<circle cx="91.9" cy="644.8" r="2.55" fill="#1b5184"/>
<circle cx="55" cy="642.5" r="2.55" fill="#1b5184"/>
<circle cx="50.4" cy="645.4" r="2.55" fill="#1b5184"/>
<circle cx="51.5" cy="648.8" r="2.55" fill="#1b5184"/>
<circle cx="50.8" cy="645" r="2.55" fill="#1b5184"/>
<circle cx="51.5" cy="649.2" r="2.55" fill="#1b5184"/>
<circle cx="54.6" cy="642.3" r="2.55" fill="#1b5184"/>
<circle cx="76.3" cy="650.6" r="2.55" fill="#1b5184"/>
<circle cx="75.8" cy="650.4" r="2.55" fill="#1b5184"/>
<circle cx="76.2" cy="650.4" r="2.55" fill="#1b5184"/>
<circle cx="82.3" cy="653.1" r="2.55" fill="#1b5184"/>
<circle cx="87.7" cy="653.5" r="2.55" fill="#1b5184"/>
<circle cx="79.6" cy="656.2" r="2.55" fill="#1b5184"/>
<circle cx="90.4" cy="656.5" r="2.55" fill="#1b5184"/>
<circle cx="103.1" cy="655" r="2.55" fill="#1b5184"/>
<circle cx="109.6" cy="653.5" r="2.55" fill="#1b5184"/>
<circle cx="81.5" cy="654.6" r="2.55" fill="#1b5184"/>
<circle cx="86.2" cy="653.5" r="2.55" fill="#1b5184"/>
<circle cx="88.5" cy="655.8" r="2.55" fill="#1b5184"/>
<circle cx="79.2" cy="658.1" r="2.55" fill="#1b5184"/>
<circle cx="46.9" cy="654.6" r="2.55" fill="#1b5184"/>
<circle cx="72.3" cy="656.9" r="2.55" fill="#1b5184"/>
<circle cx="73.1" cy="657.3" r="2.55" fill="#1b5184"/>
<circle cx="66.2" cy="658.1" r="2.55" fill="#1b5184"/>
<circle cx="78.5" cy="658.1" r="2.55" fill="#1b5184"/>
<circle cx="62.3" cy="662.7" r="2.55" fill="#1b5184"/>
<circle cx="47.3" cy="656.5" r="2.55" fill="#1b5184"/>
<circle cx="81.5" cy="653.8" r="2.55" fill="#1b5184"/>
<circle cx="86.2" cy="654.6" r="2.55" fill="#1b5184"/>
<circle cx="89.2" cy="656.2" r="2.55" fill="#1b5184"/>
<circle cx="92.3" cy="660" r="2.55" fill="#1b5184"/>
<circle cx="96.9" cy="661.5" r="2.55" fill="#1b5184"/>
<circle cx="103.1" cy="654.6" r="2.55" fill="#1b5184"/>
<circle cx="110" cy="653.1" r="2.55" fill="#1b5184"/>
<circle cx="118.5" cy="655.4" r="2.55" fill="#1b5184"/>
<circle cx="106.2" cy="662.3" r="2.55" fill="#1b5184"/>
<circle cx="108.5" cy="662.8" r="2.55" fill="#1b5184"/>
<circle cx="114.6" cy="661.5" r="2.55" fill="#1b5184"/>
<circle cx="116.9" cy="663.1" r="2.55" fill="#1b5184"/>
<circle cx="83.1" cy="663.1" r="2.55" fill="#1b5184"/>
<circle cx="86.9" cy="665.4" r="2.55" fill="#1b5184"/>
<circle cx="90.8" cy="666.2" r="2.55" fill="#1b5184"/>
<circle cx="107.7" cy="670" r="2.55" fill="#1b5184"/>
<circle cx="118.5" cy="670" r="2.55" fill="#1b5184"/>
<circle cx="103.5" cy="654.6" r="2.55" fill="#1b5184"/>
<circle cx="109.6" cy="653.1" r="2.55" fill="#1b5184"/>
<circle cx="119.6" cy="654.6" r="2.55" fill="#1b5184"/>
<circle cx="145.8" cy="648.5" r="2.55" fill="#1b5184"/>
<circle cx="119.6" cy="655.4" r="2.55" fill="#1b5184"/>
<circle cx="97.3" cy="661.5" r="2.55" fill="#1b5184"/>
<circle cx="105.8" cy="663.1" r="2.55" fill="#1b5184"/>
<circle cx="108.1" cy="662.3" r="2.55" fill="#1b5184"/>
<circle cx="114.2" cy="661.5" r="2.55" fill="#1b5184"/>
<circle cx="117.3" cy="663.1" r="2.55" fill="#1b5184"/>
<circle cx="127.3" cy="666.2" r="2.55" fill="#1b5184"/>
<circle cx="143.5" cy="663.1" r="2.55" fill="#1b5184"/>
<circle cx="155" cy="665.4" r="2.55" fill="#1b5184"/>
<circle cx="108.1" cy="670.8" r="2.55" fill="#1b5184"/>
<circle cx="119.6" cy="670" r="2.55" fill="#1b5184"/>
<circle cx="121.9" cy="674.6" r="2.55" fill="#1b5184"/>
<circle cx="100.4" cy="673.8" r="2.55" fill="#1b5184"/>
<circle cx="105" cy="675.4" r="2.55" fill="#1b5184"/>
<circle cx="98.1" cy="679.2" r="2.55" fill="#1b5184"/>
<circle cx="111.9" cy="677.7" r="2.55" fill="#1b5184"/>
<circle cx="115" cy="676.2" r="2.55" fill="#1b5184"/>
<circle cx="117.3" cy="680" r="2.55" fill="#1b5184"/>
<circle cx="135.8" cy="674.6" r="2.55" fill="#1b5184"/>
<circle cx="133.5" cy="676.9" r="2.55" fill="#1b5184"/>
<circle cx="139.6" cy="677.7" r="2.55" fill="#1b5184"/>
<circle cx="141.9" cy="676.9" r="2.55" fill="#1b5184"/>
<circle cx="125" cy="683.1" r="2.55" fill="#1b5184"/>
<circle cx="110.4" cy="683.8" r="2.55" fill="#1b5184"/>
<circle cx="107.3" cy="685.4" r="2.55" fill="#1b5184"/>
<circle cx="101.2" cy="683.1" r="2.55" fill="#1b5184"/>
<circle cx="96.5" cy="685.4" r="2.55" fill="#1b5184"/>
<circle cx="132.7" cy="689.2" r="2.55" fill="#1b5184"/>
<circle cx="115.4" cy="661.5" r="2.55" fill="#1b5184"/>
<circle cx="117.7" cy="663.1" r="2.55" fill="#1b5184"/>
<circle cx="127.7" cy="666.2" r="2.55" fill="#1b5184"/>
<circle cx="143.1" cy="663.1" r="2.55" fill="#1b5184"/>
<circle cx="154.6" cy="665.4" r="2.55" fill="#1b5184"/>
<circle cx="176.9" cy="664.6" r="2.55" fill="#1b5184"/>
<circle cx="184.6" cy="660.8" r="2.55" fill="#1b5184"/>
<circle cx="120" cy="670" r="2.55" fill="#1b5184"/>
<circle cx="122.3" cy="674.6" r="2.55" fill="#1b5184"/>
<circle cx="114.6" cy="676.2" r="2.55" fill="#1b5184"/>
<circle cx="116.9" cy="680" r="2.55" fill="#1b5184"/>
<circle cx="111.5" cy="678.5" r="2.55" fill="#1b5184"/>
<circle cx="111.5" cy="684.6" r="2.55" fill="#1b5184"/>
<circle cx="125.4" cy="683.1" r="2.55" fill="#1b5184"/>
<circle cx="135.4" cy="674.6" r="2.55" fill="#1b5184"/>
<circle cx="133.1" cy="677.7" r="2.55" fill="#1b5184"/>
<circle cx="140" cy="677.7" r="2.55" fill="#1b5184"/>
<circle cx="142.3" cy="677.2" r="2.55" fill="#1b5184"/>
<circle cx="132.8" cy="689.2" r="2.55" fill="#1b5184"/>
<circle cx="146.2" cy="701.8" r="2.55" fill="#1b5184"/>
<circle cx="80" cy="673" r="2.55" fill="#1b5184"/>
<circle cx="76.9" cy="675.4" r="2.55" fill="#1b5184"/>
<circle cx="84.6" cy="675.4" r="2.55" fill="#1b5184"/>
<circle cx="89.2" cy="673" r="2.55" fill="#1b5184"/>
<circle cx="93.1" cy="674.6" r="2.55" fill="#1b5184"/>
<circle cx="100" cy="673.8" r="2.55" fill="#1b5184"/>
<circle cx="105.4" cy="674.6" r="2.55" fill="#1b5184"/>
<circle cx="75.4" cy="678.5" r="2.55" fill="#1b5184"/>
<circle cx="81.5" cy="679.2" r="2.55" fill="#1b5184"/>
<circle cx="86.2" cy="680.8" r="2.55" fill="#1b5184"/>
<circle cx="92.3" cy="677.7" r="2.55" fill="#1b5184"/>
<circle cx="98.5" cy="680" r="2.55" fill="#1b5184"/>
<circle cx="103.1" cy="680.8" r="2.55" fill="#1b5184"/>
<circle cx="110.8" cy="679.2" r="2.55" fill="#1b5184"/>
<circle cx="115.4" cy="676.9" r="2.55" fill="#1b5184"/>
<circle cx="118.5" cy="680" r="2.55" fill="#1b5184"/>
<circle cx="72.3" cy="681.5" r="2.55" fill="#1b5184"/>
<circle cx="78.5" cy="683.1" r="2.55" fill="#1b5184"/>
<circle cx="84.6" cy="684.6" r="2.55" fill="#1b5184"/>
<circle cx="96.9" cy="683.8" r="2.55" fill="#1b5184"/>
<circle cx="101.5" cy="686.2" r="2.55" fill="#1b5184"/>
<circle cx="107.7" cy="685.4" r="2.55" fill="#1b5184"/>
<circle cx="112.3" cy="683.8" r="2.55" fill="#1b5184"/>
<circle cx="67.7" cy="686.2" r="2.55" fill="#1b5184"/>
<circle cx="72.3" cy="689.2" r="2.55" fill="#1b5184"/>
<circle cx="84.6" cy="689.2" r="2.55" fill="#1b5184"/>
<circle cx="96.9" cy="687.7" r="2.55" fill="#1b5184"/>
<circle cx="60.8" cy="692.3" r="2.55" fill="#1b5184"/>
<circle cx="70.8" cy="691.5" r="2.55" fill="#1b5184"/>
<circle cx="50" cy="693.8" r="2.55" fill="#1b5184"/>
<circle cx="61.5" cy="686.2" r="2.55" fill="#1b5184"/>
<circle cx="64.6" cy="678.5" r="2.55" fill="#1b5184"/>
<circle cx="49.4" cy="693.3" r="2.55" fill="#1b5184"/>
<circle cx="60.2" cy="691.9" r="2.55" fill="#1b5184"/>
<circle cx="68.3" cy="688.6" r="2.55" fill="#1b5184"/>
<circle cx="72.3" cy="691.2" r="2.55" fill="#1b5184"/>
<circle cx="84.4" cy="689.2" r="2.55" fill="#1b5184"/>
<circle cx="96.5" cy="688.6" r="2.55" fill="#1b5184"/>
<circle cx="176.9" cy="664.6" r="2.55" fill="#1b5184"/>
<circle cx="183.8" cy="660.3" r="2.55" fill="#1b5184"/>
<circle cx="190.8" cy="662.3" r="2.55" fill="#1b5184"/>
<circle cx="211.2" cy="680.5" r="2.55" fill="#1b5184"/>
<circle cx="246.9" cy="651.5" r="2.55" fill="#1b5184"/>
<circle cx="248.5" cy="655.4" r="2.55" fill="#1b5184"/>
<circle cx="245.4" cy="673.8" r="2.55" fill="#1b5184"/>
<circle cx="244.2" cy="676.5" r="2.55" fill="#1b5184"/>
<circle cx="260" cy="663.8" r="2.55" fill="#1b5184"/>
<circle cx="286.2" cy="656.5" r="2.55" fill="#1b5184"/>
<circle cx="296.6" cy="651.2" r="2.55" fill="#1b5184"/>
<circle cx="269.2" cy="671.5" r="2.55" fill="#1b5184"/>
<circle cx="273.1" cy="671.5" r="2.55" fill="#1b5184"/>
<circle cx="245.8" cy="673.5" r="2.55" fill="#1b5184"/>
<circle cx="244.3" cy="676.9" r="2.55" fill="#1b5184"/>
<circle cx="319.2" cy="689.2" r="2.55" fill="#1b5184"/>
<circle cx="325.1" cy="661.5" r="2.55" fill="#1b5184"/>
<circle cx="319.5" cy="689.5" r="2.55" fill="#1b5184"/>
<circle cx="211.3" cy="700" r="2.55" fill="#1b5184"/>
<circle cx="47.5" cy="566.2" r="2.55" fill="#c4143e"/>
<circle cx="47.5" cy="572.1" r="2.55" fill="#c4143e"/>
<circle cx="48.3" cy="626.5" r="2.55" fill="#c4143e"/>
<circle cx="48" cy="628.9" r="2.55" fill="#c4143e"/>
<circle cx="55.5" cy="631.2" r="2.55" fill="#c4143e"/>
<circle cx="59" cy="632" r="2.55" fill="#c4143e"/>
<circle cx="48.6" cy="638.7" r="2.55" fill="#c4143e"/>
<circle cx="76.3" cy="633.6" r="2.55" fill="#c4143e"/>
<circle cx="47.7" cy="639.2" r="2.55" fill="#c4143e"/>
<circle cx="49.6" cy="638.5" r="2.55" fill="#c4143e"/>
<circle cx="58.1" cy="642.7" r="2.55" fill="#c4143e"/>
<circle cx="48.1" cy="646.9" r="2.55" fill="#c4143e"/>
<circle cx="48.1" cy="639.6" r="2.55" fill="#c4143e"/>
<circle cx="48.7" cy="641.3" r="2.55" fill="#c4143e"/>
<circle cx="57.9" cy="643.1" r="2.55" fill="#c4143e"/>
<circle cx="48.7" cy="646.5" r="2.55" fill="#c4143e"/>
<circle cx="49.8" cy="653.5" r="2.55" fill="#c4143e"/>
<circle cx="61.3" cy="654.6" r="2.55" fill="#c4143e"/>
<circle cx="64.8" cy="653.5" r="2.55" fill="#c4143e"/>
<circle cx="67.7" cy="652.3" r="2.55" fill="#c4143e"/>
<circle cx="71.2" cy="651.2" r="2.55" fill="#c4143e"/>
<circle cx="67.7" cy="654.6" r="2.55" fill="#c4143e"/>
<circle cx="72.3" cy="654.6" r="2.55" fill="#c4143e"/>
<circle cx="51.5" cy="656.9" r="2.55" fill="#c4143e"/>
<circle cx="55" cy="658.1" r="2.55" fill="#c4143e"/>
<circle cx="61.5" cy="655.4" r="2.55" fill="#c4143e"/>
<circle cx="65.4" cy="653.8" r="2.55" fill="#c4143e"/>
<circle cx="69.2" cy="652.3" r="2.55" fill="#c4143e"/>
<circle cx="72.3" cy="650.8" r="2.55" fill="#c4143e"/>
<circle cx="66.9" cy="656.9" r="2.55" fill="#c4143e"/>
<circle cx="70.8" cy="659.2" r="2.55" fill="#c4143e"/>
<circle cx="73.1" cy="661.5" r="2.55" fill="#c4143e"/>
<circle cx="76.9" cy="663.1" r="2.55" fill="#c4143e"/>
<circle cx="78.5" cy="666.9" r="2.55" fill="#c4143e"/>
<circle cx="80.8" cy="660" r="2.55" fill="#c4143e"/>
<circle cx="53.8" cy="661.5" r="2.55" fill="#c4143e"/>
<circle cx="56.9" cy="663.1" r="2.55" fill="#c4143e"/>
<circle cx="58.5" cy="666.2" r="2.55" fill="#c4143e"/>
<circle cx="49.2" cy="658.5" r="2.55" fill="#c4143e"/>
<circle cx="51.5" cy="654.6" r="2.55" fill="#c4143e"/>
<circle cx="48.5" cy="653.8" r="2.55" fill="#c4143e"/>
<circle cx="56.2" cy="660" r="2.55" fill="#c4143e"/>
<circle cx="60" cy="667.7" r="2.55" fill="#c4143e"/>
<circle cx="53.5" cy="671.7" r="2.55" fill="#c4143e"/>
<circle cx="66.9" cy="673.7" r="2.55" fill="#c4143e"/>
<circle cx="58.2" cy="666.3" r="2.55" fill="#c4143e"/>
<circle cx="79" cy="667" r="2.55" fill="#c4143e"/>
<circle cx="49.6" cy="653.5" r="2.55" fill="#c4143e"/>
<circle cx="60.8" cy="655" r="2.55" fill="#c4143e"/>
<circle cx="64.6" cy="653.5" r="2.55" fill="#c4143e"/>
<circle cx="68.5" cy="651.9" r="2.55" fill="#c4143e"/>
<circle cx="71.5" cy="650.4" r="2.55" fill="#c4143e"/>
<circle cx="51.5" cy="657.3" r="2.55" fill="#c4143e"/>
<circle cx="55.4" cy="660.4" r="2.55" fill="#c4143e"/>
<circle cx="58.5" cy="661.2" r="2.55" fill="#c4143e"/>
<circle cx="70.8" cy="659.6" r="2.55" fill="#c4143e"/>
<circle cx="47.7" cy="660.4" r="2.55" fill="#c4143e"/>
<circle cx="81.2" cy="658.8" r="2.55" fill="#c4143e"/>
<circle cx="171.2" cy="671.5" r="2.55" fill="#c4143e"/>
<circle cx="210.5" cy="648" r="2.55" fill="#c4143e"/>
<circle cx="218.8" cy="646.9" r="2.55" fill="#c4143e"/>
<circle cx="210" cy="659.2" r="2.55" fill="#c4143e"/>
<circle cx="216.9" cy="659.2" r="2.55" fill="#c4143e"/>
<circle cx="258.5" cy="597.6" r="2.55" fill="#c4143e"/>
<circle cx="274.6" cy="645.4" r="2.55" fill="#c4143e"/>
<circle cx="256.9" cy="652.3" r="2.55" fill="#c4143e"/>
<circle cx="255.4" cy="655.4" r="2.55" fill="#c4143e"/>
<circle cx="259.2" cy="657.7" r="2.55" fill="#c4143e"/>
<circle cx="259.7" cy="660" r="2.55" fill="#c4143e"/>
<circle cx="253.1" cy="661.5" r="2.55" fill="#c4143e"/>
<circle cx="321.1" cy="658.2" r="2.55" fill="#c4143e"/>
<circle cx="343.8" cy="656.9" r="2.55" fill="#c4143e"/>
<circle cx="350" cy="676.6" r="2.55" fill="#c4143e"/>
<circle cx="432" cy="550.9" r="2.6" fill="#1b5184"/>
<text x="440.6" y="555.2" class="lg2">Responder</text>
<circle cx="432" cy="569.3" r="2.6" fill="#c4143e"/>
<text x="440.6" y="573.6" class="lg2" textLength="78.6" lengthAdjust="spacingAndGlyphs">Non-responder</text>
</svg>
</body></html>
